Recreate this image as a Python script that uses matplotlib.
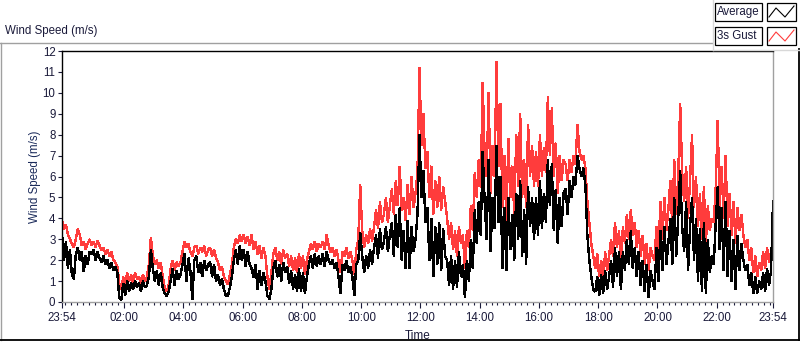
import matplotlib
matplotlib.use('Agg')
import matplotlib.pyplot as plt
from matplotlib.lines import Line2D
from matplotlib.patches import Rectangle
import numpy as np

# ---------------- data (4-minute samples starting 23:54, one row per hour) ----------------
step_minutes = 4
start_label = "23:54"

gust = [
    3.9, 3.5, 3.7, 3.2, 3.0, 2.8, 2.6, 3.0, 3.5, 3.2, 2.7, 2.9, 2.5, 2.8, 3.0,
    2.7, 2.9, 2.6, 2.95, 2.7, 2.5, 2.6, 2.3, 2.5, 2.2, 2.4, 2.0, 1.9, 1.7, 0.9,
    0.6, 1.2, 0.8, 1.4, 1.0, 1.3, 0.9, 1.4, 1.1, 1.2, 0.9, 1.3, 1.0, 1.2, 1.8,
    3.1, 2.2, 1.8, 2.0, 1.6, 1.9, 1.2, 0.7, 0.5, 0.8, 1.6, 2.0, 1.5, 1.9, 1.7,
    1.9, 2.4, 2.9, 2.6, 2.8, 2.4, 2.2, 2.6, 2.7, 2.3, 2.6, 2.4, 2.7, 2.2, 2.5,
    2.6, 2.2, 2.5, 2.1, 1.9, 1.5, 1.7, 1.2, 1.0, 0.85, 1.3, 1.8, 2.6, 3.0, 2.8,
    3.2, 2.9, 3.2, 2.8, 3.1, 2.7, 3.2, 2.5, 2.9, 2.3, 2.7, 2.1, 2.6, 2.2, 1.2,
    0.6, 1.4, 2.3, 2.6, 2.0, 2.4, 1.8, 2.5, 2.1, 2.3, 1.7, 2.2, 1.5, 2.1, 1.4,
    2.3, 1.6, 2.2, 1.3, 2.0, 2.4, 2.8, 2.5, 2.9, 2.4, 2.8, 2.6, 2.9, 2.5, 3.2,
    2.7, 2.4, 2.6, 2.2, 2.5, 2.0, 1.4, 2.4, 2.2, 2.6, 2.1, 2.4, 2.0, 1.3, 2.5,
    3.0, 5.6, 3.4, 2.6, 3.2, 2.8, 3.5, 2.9, 3.6, 4.4, 3.5, 4.8, 3.8, 4.2, 5.0,
    3.8, 4.6, 5.4, 4.2, 5.8, 4.6, 6.5, 4.4, 5.0, 3.9, 5.6, 4.2, 6.0, 4.5, 5.2,
    6.2, 11.2, 7.5, 9.0, 6.4, 7.2, 5.0, 6.5, 4.2, 5.8, 4.5, 6.0, 4.4, 5.5, 4.8,
    4.0, 3.0, 3.8, 2.5, 3.4, 2.2, 3.6, 2.8, 3.2, 1.6, 3.4, 2.6, 4.6, 3.4, 6.2,
    5.0, 6.8, 5.5, 10.5, 7.0, 6.0, 10.0, 5.2, 7.5, 6.0, 11.5, 6.5, 9.5, 4.5, 7.0,
    3.8, 7.8, 5.0, 6.5, 4.2, 8.0, 5.5, 9.0, 5.0, 6.8, 4.5, 8.5, 6.0, 7.5, 5.5,
    7.2, 5.5, 8.0, 6.0, 7.4, 6.2, 9.8, 7.0, 9.3, 6.0, 7.6, 5.2, 7.0, 5.8, 6.8,
    6.6, 5.8, 6.8, 6.2, 7.0, 6.6, 8.5, 7.2, 6.8, 7.0, 6.4, 4.8, 3.8, 2.8, 2.2,
    1.6, 2.3, 1.2, 2.0, 1.0, 2.4, 1.5, 2.2, 3.0, 2.2, 3.8, 2.6, 3.4, 2.0, 3.6,
    2.8, 4.2, 3.0, 4.4, 3.2, 3.8, 2.6, 3.4, 2.2, 3.2, 1.8, 2.8, 1.5, 2.6, 2.2,
    2.0, 3.6, 2.4, 4.8, 3.0, 5.0, 3.4, 4.4, 5.8, 3.6, 6.8, 4.2, 6.0, 9.5, 6.2,
    4.8, 6.5, 4.0, 5.8, 8.0, 4.5, 6.0, 3.6, 5.2, 3.0, 5.5, 2.8, 4.6, 3.4, 4.0,
    3.8, 5.5, 8.7, 4.5, 6.5, 4.0, 7.0, 3.6, 5.2, 3.2, 4.8, 2.8, 4.5, 3.4, 4.2,
    3.2, 2.6, 3.0, 2.0, 2.6, 1.4, 2.2, 1.2, 1.9, 1.5, 2.4, 1.6, 2.6, 1.9, 2.4,
    2.6,
]

average = [
    3.3, 2.0, 2.9, 1.6, 2.5, 1.3, 1.1, 2.3, 2.6, 2.0, 2.4, 1.45, 2.2, 1.8, 2.4,
    2.3, 2.5, 2.0, 2.4, 2.1, 1.9, 2.2, 1.8, 2.0, 1.6, 1.9, 1.5, 1.7, 1.4, 0.2,
    0.1, 0.9, 0.3, 1.0, 0.5, 0.9, 0.6, 1.0, 0.7, 0.9, 0.5, 1.0, 0.7, 0.8, 1.2,
    2.5, 1.6, 1.0, 1.5, 0.8, 1.4, 0.7, 0.4, 0.3, 0.5, 1.0, 1.6, 0.8, 1.5, 1.1,
    1.3, 1.8, 2.3, 1.0, 2.1, 1.5, 0.1, 2.0, 2.2, 1.4, 1.9, 1.2, 2.0, 1.5, 1.8,
    1.9, 1.2, 1.8, 1.0, 1.3, 0.8, 1.1, 0.6, 0.3, 0.3, 0.7, 1.2, 2.0, 2.5, 1.8,
    2.7, 2.0, 2.5, 1.7, 2.4, 1.8, 1.6, 1.2, 1.8, 0.6, 1.5, 0.8, 1.4, 1.0, 0.3,
    0.15, 0.6, 1.6, 2.0, 1.2, 1.8, 1.0, 1.9, 1.4, 1.7, 0.9, 1.5, 0.6, 1.3, 0.5,
    1.6, 0.5, 1.4, 0.4, 1.2, 1.8, 2.2, 1.6, 2.3, 1.7, 2.2, 1.8, 2.3, 1.7, 2.4,
    2.0, 1.8, 2.0, 1.6, 1.9, 1.2, 0.4, 1.8, 1.5, 2.0, 1.4, 1.7, 1.2, 0.3, 1.8,
    2.0, 3.3, 2.2, 1.4, 2.2, 1.6, 2.5, 1.8, 2.6, 3.2, 2.1, 3.5, 2.5, 2.9, 3.6,
    2.4, 3.2, 3.8, 2.2, 4.2, 2.6, 4.5, 2.0, 3.4, 1.6, 3.9, 1.6, 3.6, 2.4, 3.0,
    4.2, 8.0, 5.0, 6.3, 3.8, 4.5, 2.0, 4.0, 1.2, 3.6, 1.8, 3.8, 1.5, 3.5, 2.2,
    2.0, 0.8, 2.2, 0.6, 2.0, 0.7, 2.4, 1.2, 1.8, 0.2, 2.0, 1.0, 3.0, 1.6, 4.4,
    2.8, 4.8, 3.2, 7.2, 4.8, 3.0, 6.8, 2.4, 5.0, 3.5, 7.5, 3.8, 6.0, 1.6, 4.5,
    1.5, 5.0, 2.5, 4.2, 2.0, 5.2, 3.0, 5.8, 2.2, 4.4, 1.8, 5.5, 3.6, 5.0, 3.0,
    5.0, 3.2, 5.8, 3.5, 5.2, 3.8, 6.8, 4.6, 6.6, 3.4, 5.4, 2.8, 5.0, 3.6, 5.2,
    5.4, 4.2, 5.8, 5.0, 6.0, 5.6, 7.0, 6.4, 6.0, 6.4, 5.6, 3.2, 2.0, 1.2, 0.6,
    0.5, 1.2, 0.3, 1.3, 0.4, 1.5, 0.6, 1.2, 2.0, 0.7, 2.6, 1.2, 2.4, 0.6, 2.4,
    1.5, 3.0, 1.8, 3.4, 1.6, 2.6, 1.2, 2.4, 0.8, 2.0, 0.5, 1.8, 0.2, 1.5, 1.0,
    0.6, 2.6, 1.0, 3.4, 1.5, 3.6, 1.8, 2.8, 4.0, 1.8, 5.0, 2.2, 4.0, 6.3, 3.6,
    2.4, 4.8, 1.5, 3.6, 5.0, 2.0, 4.0, 1.0, 3.5, 0.5, 3.8, 0.4, 3.0, 1.4, 2.2,
    1.8, 3.8, 5.5, 2.5, 4.5, 1.5, 4.8, 1.2, 3.4, 1.0, 3.0, 0.6, 3.2, 1.5, 2.8,
    2.0, 1.5, 1.8, 0.8, 1.4, 0.4, 1.2, 0.4, 1.0, 0.6, 1.4, 0.5, 1.6, 0.8, 1.5,
    4.8,
]

x_tick_labels = ["23:54", "02:00", "04:00", "06:00", "08:00", "10:00",
                 "12:00", "14:00", "16:00", "18:00", "20:00", "22:00", "23:54"]
y_ticks = list(range(0, 13))
series_names = ["Average", "3s Gust"]

# ---------------- helpers ----------------
W, H = 800, 342


def to_min(lbl):
    h, m = lbl.split(":")
    return int(h) * 60 + int(m)


start_min = to_min(start_label)
t_hours = np.arange(len(gust)) * step_minutes / 60.0
total_h = 24.0

major_pos = []
for k, lbl in enumerate(x_tick_labels):
    if k == len(x_tick_labels) - 1:
        major_pos.append(total_h)
    else:
        major_pos.append(((to_min(lbl) - start_min) % 1440) / 60.0)
first_minor = ((0 - start_min) % 12) / 60.0
minor_pos = np.arange(first_minor, total_h, 0.2)


def fx(x):
    return x / W


def fy(y):
    return 1 - y / H


TEXT = '#1a1a3a'
FONT = 'Liberation Sans'
plt.rcParams['font.family'] = [FONT, 'DejaVu Sans']

fig = plt.figure(figsize=(W / 100, H / 100), dpi=100)
fig.patch.set_facecolor('white')

ax = fig.add_axes([fx(62), fy(302), fx(773) - fx(62), fy(51) - fy(302)])
ax.plot(t_hours, gust, color='#ff3c3c', lw=1.0, solid_joinstyle='miter', antialiased=False)
ax.plot(t_hours, average, color='black', lw=1.0, solid_joinstyle='miter', antialiased=False)
ax.set_xlim(0, total_h)
ax.set_ylim(0, 12)

ax.set_yticks(y_ticks)
ax.set_yticklabels([str(v) for v in y_ticks])
ax.set_xticks(major_pos)
ax.set_xticklabels(x_tick_labels)
ax.set_xticks(minor_pos, minor=True)

ax.tick_params(axis='y', which='major', direction='out', length=3.2, width=0.8,
               color=TEXT, labelsize=8.3, labelcolor=TEXT, pad=1.5)
ax.tick_params(axis='x', which='major', direction='out', length=4.0, width=0.8,
               color=TEXT, labelsize=8.3, labelcolor=TEXT, pad=3.5)
ax.tick_params(axis='x', which='minor', direction='out', length=2.3, width=0.8,
               color=TEXT)

for side, col in [('top', 'black'), ('left', 'black'), ('bottom', '#a0a0a0'), ('right', '#a0a0a0')]:
    ax.spines[side].set_color(col)
    ax.spines[side].set_linewidth(1.0)

ax.set_ylabel("Wind Speed (m/s)", fontsize=8.3, color='#1a2a5a', labelpad=1)
ax.set_xlabel("Time", fontsize=8.5, color=TEXT, labelpad=4)

# title
fig.text(fx(5), fy(31), "Wind Speed (m/s)", fontsize=8.3, color=TEXT,
         ha='left', va='center')

# panel frame lines
def fline(x0, y0, x1, y1, color, lw=1.0):
    fig.add_artist(Line2D([fx(x0), fx(x1)], [fy(y0), fy(y1)], color=color, lw=lw,
                          transform=fig.transFigure))

fline(0, 42.5, 712, 42.5, '#a0a0a0')
fline(0.5, 42.5, 0.5, 340, '#a0a0a0')
fline(0, 340, 800, 340, 'black', 1.3)
fline(799, 49, 799, 340, 'black', 1.3)
fline(712.5, 0, 712.5, 49.5, '#d8d8d8')
fline(712.5, 49.5, 800, 49.5, '#d8d8d8')

# legend
legend_colors = ['black', '#ff3c3c']
for k, (name, col) in enumerate(zip(series_names, legend_colors)):
    y0 = 3 + 24 * k
    fig.add_artist(Rectangle((fx(715), fy(y0 + 18)), fx(762) - fx(715), fy(y0) - fy(y0 + 18),
                             transform=fig.transFigure, fc='white', ec='black', lw=0.9))
    fig.text(fx(717), fy(y0 + 9), name, fontsize=8.3, color=TEXT, ha='left', va='center')
    fig.add_artist(Rectangle((fx(767), fy(y0 + 18)), fx(796) - fx(767), fy(y0) - fy(y0 + 18),
                             transform=fig.transFigure, fc='white', ec='black', lw=0.9))
    zx = [769, 776, 785, 794]
    zy = [y0 + 14, y0 + 5, y0 + 14, y0 + 3]
    fig.add_artist(Line2D([fx(v) for v in zx], [fy(v) for v in zy], color=col, lw=0.8,
                          transform=fig.transFigure))

fig.savefig('out.png', dpi=100, facecolor='white')
